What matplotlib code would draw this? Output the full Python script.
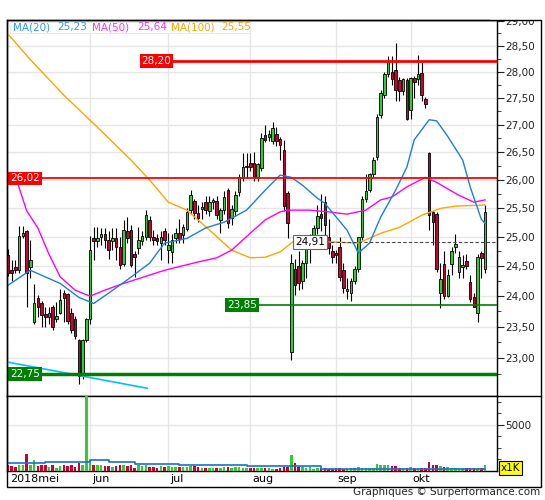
import matplotlib
matplotlib.use('Agg')
import matplotlib.pyplot as plt
import matplotlib.transforms as mtransforms
from matplotlib.patches import Rectangle
from matplotlib.lines import Line2D
from matplotlib.ticker import FixedLocator, NullFormatter, FuncFormatter

# daily candles, May 2 - Oct 29 2018
opens = [24.68, 24.43, 24.48, 24.43, 25.02, 25.09, 24.49, 23.58, 23.97, 23.88,
         23.70, 23.66, 23.83, 23.62, 23.72, 24.05, 24.03, 23.72, 23.63, 23.29,
         22.77, 23.29, 23.63, 24.97, 24.93, 24.99, 25.04, 24.94, 24.93, 24.97,
         24.82, 24.53, 25.09, 25.12, 24.71, 24.81, 24.93, 25.00, 25.29, 25.00,
         24.97, 24.90, 25.09, 24.77, 24.74, 24.97, 25.07, 25.03, 25.14, 25.47,
         25.62, 25.41, 25.48, 25.60, 25.44, 25.60, 25.62, 25.29, 25.46, 25.81,
         25.32, 25.44, 25.78, 26.02, 26.23, 26.30, 26.30, 26.05, 26.20, 26.80,
         26.78, 26.70, 26.83, 26.73, 26.53, 25.76, 23.10, 24.45, 24.50, 24.25,
         24.55, 24.85, 25.00, 25.15, 25.40, 25.60, 25.00, 24.75, 24.72, 24.82,
         24.43, 24.08, 24.05, 24.25, 24.45, 25.00, 25.65, 25.82, 26.10, 26.40,
         27.18, 27.55, 27.95, 28.00, 28.03, 27.84, 27.63, 27.84, 27.27, 27.87,
         27.85, 27.98, 27.48, 26.47, 25.42, 25.40, 24.06, 24.53, 24.00, 24.53,
         24.83, 24.40, 24.49, 24.58, 24.24, 23.99, 23.72, 24.72, 24.46]
highs = [24.79, 24.60, 24.60, 25.18, 25.18, 25.12, 24.94, 24.20, 24.02, 23.92,
         23.82, 23.82, 23.86, 23.90, 24.12, 24.10, 24.05, 23.80, 23.68, 23.30,
         23.30, 23.65, 25.02, 25.17, 25.17, 25.15, 25.15, 25.09, 25.15, 25.15,
         25.00, 25.29, 25.34, 25.20, 24.75, 25.17, 25.10, 25.46, 25.35, 25.12,
         25.05, 25.10, 25.15, 25.06, 25.05, 25.15, 25.30, 25.22, 25.50, 25.82,
         25.65, 25.55, 25.60, 25.70, 25.70, 25.68, 25.70, 25.50, 25.80, 25.85,
         25.55, 25.80, 26.10, 26.47, 26.47, 26.47, 26.50, 26.30, 26.85, 27.00,
         26.90, 27.05, 26.95, 26.77, 26.72, 25.80, 24.70, 24.62, 24.75, 24.60,
         25.00, 25.05, 25.20, 25.55, 25.75, 25.70, 25.30, 24.85, 24.78, 25.00,
         24.55, 24.30, 24.30, 24.50, 25.00, 25.70, 26.10, 26.12, 26.40, 27.20,
         27.65, 28.00, 28.30, 28.30, 28.55, 27.90, 27.88, 27.88, 27.90, 27.92,
         28.32, 28.18, 27.52, 26.50, 25.45, 25.42, 24.55, 24.75, 24.45, 24.82,
         25.05, 24.75, 24.68, 24.70, 24.35, 24.05, 24.70, 24.75, 25.55]
lows = [24.33, 24.25, 24.38, 24.38, 24.98, 23.83, 24.30, 23.55, 23.66, 23.50,
        23.49, 23.55, 23.45, 23.58, 23.70, 23.58, 23.55, 23.40, 23.30, 22.60,
        22.67, 23.25, 23.55, 24.60, 24.82, 24.86, 24.80, 24.62, 24.77, 24.60,
        24.45, 24.50, 24.90, 24.48, 24.32, 24.70, 24.85, 24.95, 24.92, 24.85,
        24.85, 24.60, 24.85, 24.55, 24.55, 24.90, 24.90, 24.90, 25.10, 25.40,
        25.30, 25.25, 25.30, 25.40, 25.35, 25.48, 25.30, 25.07, 25.40, 25.15,
        25.20, 25.35, 25.70, 25.97, 26.03, 26.15, 25.98, 25.98, 26.15, 26.68,
        26.70, 26.65, 26.60, 26.35, 25.45, 24.97, 22.97, 24.02, 24.10, 24.12,
        24.30, 24.55, 24.80, 25.05, 25.10, 25.00, 24.70, 24.55, 24.55, 24.25,
        24.05, 23.95, 23.92, 24.20, 24.40, 24.95, 25.60, 25.78, 26.05, 26.35,
        27.12, 27.50, 27.90, 27.75, 27.45, 27.45, 27.55, 27.08, 27.10, 27.50,
        27.75, 27.45, 27.30, 25.11, 24.85, 24.40, 23.80, 23.95, 23.98, 24.35,
        24.72, 24.30, 24.30, 24.45, 23.90, 23.82, 23.57, 24.30, 24.38]
closes = [24.38, 24.38, 24.43, 25.02, 25.06, 24.38, 24.61, 23.88, 23.83, 23.69,
          23.66, 23.72, 23.49, 23.67, 23.93, 23.97, 23.59, 23.45, 23.35, 22.72,
          23.29, 23.62, 24.77, 24.92, 24.97, 25.04, 24.95, 24.77, 24.97, 24.82,
          24.52, 25.12, 24.97, 24.52, 24.65, 24.94, 25.02, 25.37, 25.00, 24.94,
          24.93, 25.00, 24.94, 24.85, 24.94, 25.07, 24.96, 25.17, 25.43, 25.72,
          25.41, 25.32, 25.51, 25.46, 25.60, 25.63, 25.37, 25.46, 25.69, 25.23,
          25.48, 25.72, 26.05, 26.22, 26.25, 26.22, 26.05, 26.28, 26.75, 26.72,
          26.83, 26.93, 26.70, 26.62, 25.53, 25.23, 24.55, 24.18, 24.22, 24.55,
          24.88, 25.02, 25.15, 25.35, 25.33, 25.20, 24.80, 24.65, 24.68, 24.32,
          24.14, 24.12, 24.25, 24.45, 25.00, 25.65, 25.80, 26.10, 26.35, 27.15,
          27.60, 27.95, 28.20, 27.85, 27.65, 27.63, 27.86, 27.10, 27.87, 27.80,
          27.95, 27.55, 27.38, 25.38, 25.25, 24.46, 24.28, 24.01, 24.35, 24.75,
          24.88, 24.66, 24.52, 24.50, 23.96, 23.83, 24.65, 24.64, 25.42]
volumes = [700, 500, 450, 700, 700, 1800, 650, 1150, 560, 680,
           600, 420, 620, 300, 560, 700, 560, 620, 440, 880,
           640, 8200, 1200, 700, 640, 620, 520, 520, 480, 500,
           600, 640, 500, 640, 350, 600, 520, 600, 420, 450,
           380, 500, 450, 500, 480, 420, 420, 480, 420, 540,
           520, 440, 380, 380, 360, 360, 380, 320, 400, 400,
           360, 400, 400, 380, 380, 300, 300, 360, 330, 280,
           300, 260, 250, 300, 450, 480, 1700, 880, 450, 480,
           380, 400, 250, 280, 300, 320, 270, 250, 300, 280,
           260, 260, 300, 360, 450, 350, 300, 300, 320, 750,
           700, 700, 700, 500, 560, 350, 320, 300, 400, 300,
           300, 300, 320, 1000, 700, 700, 500, 400, 480, 380,
           350, 300, 350, 280, 350, 300, 300, 300, 650]

# moving averages (sampled off the chart)
ma20_idx = [0, 6, 14, 19, 23, 27, 32, 38, 42, 48, 53, 58, 64, 69, 73, 76, 79, 83, 85,
            91, 94, 97, 100, 104, 107, 109, 113, 115, 118, 122, 124, 127, 128]
ma20_val = [24.18, 24.43, 24.21, 23.98, 23.88, 24.05, 24.27, 24.55, 24.89, 24.97, 25.15,
            25.25, 25.46, 25.81, 26.08, 26.04, 25.90, 25.67, 25.58, 25.11, 24.72, 24.89,
            25.34, 25.81, 26.22, 26.72, 27.09, 27.07, 26.78, 26.35, 25.87, 25.30, 25.23]
ma50_idx = [2, 3, 5, 8, 11, 14, 18, 22, 26, 31, 36, 42, 51, 56, 60, 65, 69, 73, 75,
            81, 86, 91, 96, 100, 103, 107, 112, 115, 121, 125, 128]
ma50_val = [26.10, 25.85, 25.45, 25.15, 24.70, 24.32, 24.10, 24.00, 24.10, 24.21, 24.31,
            24.43, 24.57, 24.64, 24.77, 25.06, 25.29, 25.43, 25.46, 25.46, 25.43, 25.39,
            25.46, 25.64, 25.69, 25.87, 26.04, 25.95, 25.72, 25.60, 25.64]
ma100_idx = [0, 6, 15, 24, 33, 38, 43, 48, 55, 60, 65, 69, 73, 77, 81, 87, 94, 100,
             105, 111, 116, 120, 128]
ma100_val = [28.73, 28.23, 27.55, 26.95, 26.35, 25.99, 25.60, 25.46, 25.06, 24.77, 24.64,
             24.65, 24.74, 24.94, 24.89, 24.91, 24.89, 25.06, 25.16, 25.37, 25.49, 25.53,
             25.55]
trend_idx = [-0.3, 37.3]
trend_val = [22.94, 22.53]

vol_ma_idx = [0, 10, 22, 27, 34, 46, 64, 76, 84, 128]
vol_ma_val = [875, 1030, 1180, 1030, 760, 650, 500, 560, 270, 270]

month_names = ['2018mei', 'jun', 'jul', 'aug', 'sep', 'okt']
month_start = [0, 22, 43, 65, 88, 108]
price_ticks = [23.0, 23.5, 24.0, 24.5, 25.0, 25.5, 26.0, 26.5, 27.0, 27.5, 28.0, 28.5, 29.0]
price_minor = [22.75, 23.25, 23.75, 24.25, 24.75, 25.25, 25.75, 26.25, 26.75, 27.25,
               27.75, 28.25, 28.75]

GREEN = '#33cc33'
RED = '#cc0033'

fig = plt.figure(figsize=(5.45, 5.0), dpi=100)
ax = fig.add_axes([7/545, 104/500, 490/545, 376/500])
axv = fig.add_axes([7/545, 29/500, 490/545, 75/500], sharex=ax)

n = len(closes)
idx = list(range(n))
colors = [GREEN if closes[i] >= opens[i] else RED for i in idx]

# candles
ax.vlines(idx, lows, highs, color='black', lw=0.8, zorder=3)
bottoms = [min(opens[i], closes[i]) for i in idx]
heights = [max(abs(closes[i] - opens[i]), 0.012) for i in idx]
ax.bar(idx, heights, bottom=bottoms, width=0.68, color=colors,
       edgecolor='black', linewidth=0.6, zorder=3.2)

ax.plot(ma100_idx, ma100_val, color='#ffa500', lw=1, zorder=4)
ax.plot(ma50_idx, ma50_val, color='#ff00ff', lw=1, zorder=4)
ax.plot(ma20_idx, ma20_val, color='#1a80d9', lw=1, zorder=4)
ax.plot(trend_idx, trend_val, color='#00bfff', lw=1.2, zorder=4)

ax.set_yscale('log')
ax.set_ylim(22.41, 29.01)
ax.set_xlim(-0.27, 131.2)

# support / resistance levels
bl = mtransforms.blended_transform_factory(ax.transAxes, ax.transData)
ax.axhline(28.20, xmin=0.337, xmax=1, color='#ff0000', lw=2, zorder=4.5)
ax.axhline(26.02, color='#ff0000', lw=1.3, zorder=4.5)
ax.axhline(23.85, xmin=0.512, xmax=1, color='#008000', lw=1.2, zorder=4.5)
ax.axhline(22.75, color='#008000', lw=2.5, zorder=4.5)
ax.axhline(24.91, xmin=0.649, xmax=1, color='#444444', lw=0.8, ls=(0, (3, 2)), zorder=4.5)

def level_box(x, y, txt, ha, fc, tc='white', ec='none'):
    ax.text(x, y, txt, transform=bl, ha=ha, va='center', color=tc, fontsize=7.5,
            zorder=6, bbox=dict(boxstyle='square,pad=0.18', fc=fc, ec=ec, lw=0.8))

level_box(0.335, 28.20, '28,20', 'right', '#ff0000')
level_box(0.006, 26.02, '26,02', 'left', '#ff0000')
level_box(0.510, 23.85, '23,85', 'right', '#008000')
level_box(0.006, 22.75, '22,75', 'left', '#008000')
level_box(0.649, 24.91, '24,91', 'right', 'white', tc='black', ec='#666666')

# price axis on the right
ax.yaxis.tick_right()
ax.yaxis.set_major_locator(FixedLocator(price_ticks))
ax.yaxis.set_minor_locator(FixedLocator(price_minor))
ax.yaxis.set_major_formatter(FuncFormatter(lambda v, p: f'{v:.2f}'.replace('.', ',')))
ax.yaxis.set_minor_formatter(NullFormatter())
ax.tick_params(axis='y', which='major', length=5, labelsize=7.5, pad=1, colors='#222222')
ax.tick_params(axis='y', which='minor', length=3, colors='#222222')
ax.set_xticks(month_start[1:])
ax.tick_params(axis='x', length=0, labelbottom=False)
ax.grid(True, which='major', color='#e6e6e6', lw=1, zorder=0)
ax.set_axisbelow(True)

# MA legend
ax.add_patch(Rectangle((0.006, 0.966), 0.49, 0.028, transform=ax.transAxes,
                       fc='white', ec='#e0e0e0', lw=0.5, zorder=5))
leg = [('MA(20)', 0.012, '#3399ff'), ('25,23', 0.102, '#3399ff'),
       ('MA(50)', 0.173, '#ff33ff'), ('25,64', 0.265, '#ff33ff'),
       ('MA(100)', 0.335, '#ffa500'), ('25,55', 0.437, '#ffa500')]
for txt, x, c in leg:
    ax.text(x, 0.981, txt, transform=ax.transAxes, color=c, fontsize=7.5,
            ha='left', va='center', zorder=6)

# volume
axv.bar(idx, volumes, width=0.7, color=colors, linewidth=0, zorder=3)
axv.plot(vol_ma_idx, vol_ma_val, color='#1a6fd0', lw=1.2, drawstyle='steps-post', zorder=4)
axv.set_ylim(0, 8150)
axv.yaxis.tick_right()
axv.yaxis.set_major_locator(FixedLocator([5000]))
axv.yaxis.set_minor_locator(FixedLocator([1250, 2500, 3750, 6250, 7500]))
axv.yaxis.set_minor_formatter(NullFormatter())
axv.tick_params(axis='y', which='major', length=5, labelsize=7.5, pad=1, colors='#222222')
axv.tick_params(axis='y', which='minor', length=3, colors='#222222')
axv.tick_params(axis='x', length=0, labelbottom=False)
axv.grid(True, which='major', color='#e6e6e6', lw=1, zorder=0)
axv.set_axisbelow(True)

blv = mtransforms.blended_transform_factory(axv.transData, axv.transAxes)
for name, pos in zip(month_names, month_start):
    axv.text(pos + 0.5, -0.11, name, transform=blv, ha='left', va='center',
             fontsize=8, color='black')

for a in (ax, axv):
    for s in a.spines.values():
        s.set_color('black')
        s.set_linewidth(1)

# white strip above the frame hides the top half of the 29,00 label
fig.add_artist(Rectangle((490/545, 480.5/500), 55/545, 19.5/500, transform=fig.transFigure,
                         fc='white', ec='none', zorder=10))

# outer frame
fig.add_artist(Rectangle((7/545, 13/500), 534/545, 467/500, transform=fig.transFigure,
                         fill=False, ec='black', lw=1, zorder=11))
fig.add_artist(Line2D([497/545, 541/545], [104/500, 104/500], transform=fig.transFigure,
                      color='black', lw=1))
fig.text(501/545, 32/500, 'x1K', fontsize=7.5, ha='left', va='center',
         bbox=dict(boxstyle='square,pad=0.15', fc='#ffff00', ec='black', lw=0.8))
fig.text(540/545, 8/500, 'Graphiques \u00a9 Surperformance.com', fontsize=7.5,
         ha='right', va='center', color='#222222')

plt.savefig('out.png', dpi=100)
